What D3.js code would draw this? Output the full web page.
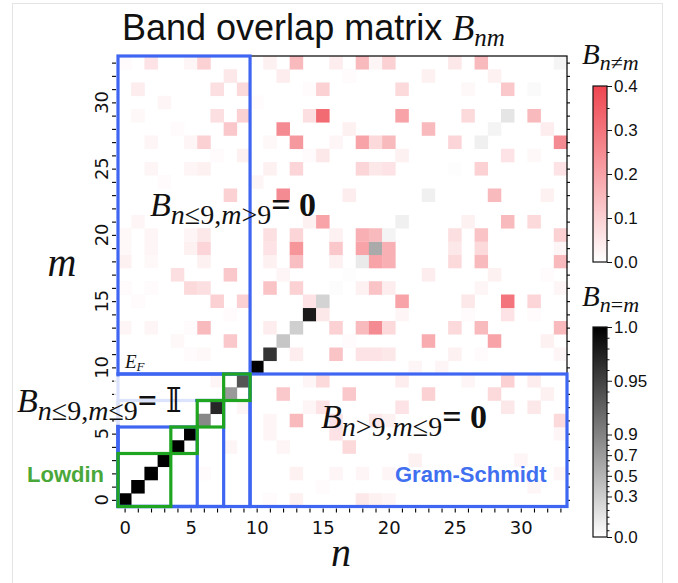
<!DOCTYPE html>
<html>
<head>
<meta charset="utf-8">
<script src="https://cdn.jsdelivr.net/npm/d3@7"></script>
<style>
  body { margin: 0; background: #ffffff; }
  svg { display: block; }
</style>
</head>
<body>
<svg id="chart" width="678" height="583"></svg>
<script>
// ---- data -------------------------------------------------------------
const bandIndex = d3.range(34);               // band indices n, m = 0..33
const axisTicks = [0, 5, 10, 15, 20, 25, 30];  // labelled ticks on both axes
const offTicks = [0.0, 0.1, 0.2, 0.3, 0.4];    // colour bar B_{n≠m}
const diagTicks = [0.0, 0.3, 0.5, 0.7, 0.9, 0.95, 1.0]; // colour bar B_{n=m}

// diagonal overlaps B_nn, n = 0..33
const diagonal = [
  1.00, 1.00, 1.00, 1.00, 1.00, 1.00, 0.86, 0.97, 0.72, 0.935,
  1.00, 0.96, 0.36, 0.29, 0.98, 0.27, 0.02, 0.01, 0.13, 0.585,
  0.07, 0.09, 0.00, 0.09, 0.00, 0.01, 0.00, 0.09, 0.07, 0.16,
  0.00, 0.03, 0.00, 0.06
];

// off-diagonal overlaps [n, m, B_nm]; absent pairs are zero
const offDiagonal = [
  // n <= 9, m > 9
  [0,33,.01],[2,33,.06],[5,33,.02],[6,33,.10],[8,32,.05],
  [1,31,.04],[7,31,.07],[9,31,.08],[3,30,.02],
  [1,29,.015],[7,29,.07],[9,29,.10],[4,28,.01],[8,28,.12],
  [2,27,.02],[5,27,.02],[6,27,.10],[7,26,.01],[9,26,.03],
  [2,25,.02],[5,25,.02],[6,25,.03],[3,24,.01],[8,23,.10],
  [1,21,.02],[0,20,.015],[2,20,.02],[5,20,.02],[6,20,.05],
  [0,19,.015],[2,19,.02],[5,19,.03],[6,19,.09],
  [0,18,.03],[2,18,.015],[6,18,.03],[4,17,.07],[8,17,.12],
  [0,16,.01],[2,16,.01],[5,16,.08],[6,16,.07],
  [1,15,.01],[7,15,.10],[9,15,.10],[8,14,.01],
  [0,13,.02],[2,13,.02],[5,13,.01],[6,13,.15],
  [4,12,.015],[8,12,.12],[5,11,.01],[6,11,.015],
  // n > 9, m > 9
  [11,33,.03],[13,33,.15],[16,33,.04],[18,33,.15],[19,33,.02],[20,33,.10],[25,33,.05],[27,33,.15],
  [12,32,.04],[17,32,.01],[23,32,.03],[28,32,.03],
  [14,31,.01],[15,31,.10],[21,31,.08],[26,31,.015],[29,31,.12],
  [10,30,.01],
  [14,29,.07],[15,29,.32],[21,29,.20],[26,29,.08],[31,29,.15],
  [12,28,.25],[17,28,.03],[23,28,.15],[32,28,.04],
  [11,27,.015],[13,27,.22],[16,27,.02],[18,27,.20],[19,27,.08],[20,27,.15],[25,27,.09],[33,27,.25],
  [14,26,.01],[15,26,.05],[21,26,.03],[29,26,.06],[31,26,.015],
  [11,25,.03],[13,25,.09],[18,25,.09],[19,25,.05],[20,25,.06],[27,25,.10],[33,25,.06],
  [10,24,.02],
  [12,23,.25],[17,23,.04],[28,23,.15],[32,23,.03],
  [14,21,.03],[15,21,.20],[26,21,.03],[29,21,.15],[31,21,.08],
  [11,20,.07],[13,20,.09],[16,20,.03],[18,20,.17],[19,20,.15],[25,20,.07],[27,20,.13],[33,20,.10],
  [11,19,.06],[13,19,.23],[16,19,.12],[18,19,.20],[20,19,.17],[25,19,.05],[27,19,.08],[33,19,.02],
  [11,18,.03],[13,18,.14],[16,18,.03],[19,18,.20],[20,18,.17],[25,18,.08],[27,18,.15],[33,18,.15],
  [12,17,.02],[23,17,.04],[28,17,.03],[32,17,.01],
  [11,16,.13],[13,16,.10],[18,16,.03],[19,16,.13],[20,16,.04],[27,16,.02],[33,16,.02],
  [14,15,.06],[21,15,.20],[26,15,.05],[29,15,.30],[31,15,.09],
  [15,14,.05],[21,14,.02],[26,14,.01],[29,14,.06],[31,14,.01],
  [11,13,.04],[16,13,.10],[18,13,.15],[19,13,.25],[20,13,.08],[25,13,.08],[27,13,.15],[33,13,.15],
  [17,12,.01],[23,12,.18],[28,12,.20],[32,12,.03],
  [13,11,.04],[16,11,.13],[18,11,.06],[19,11,.06],[20,11,.05],[25,11,.03],[27,11,.01],[33,11,.02],
  [22,10,.02],[24,10,.02],
  // n > 9, m <= 9
  [14,9,.02],[15,9,.08],[21,9,.04],[26,9,.02],[29,9,.10],[31,9,.04],
  [12,8,.12],[17,8,.12],[23,8,.10],[28,8,.08],[32,8,.03],
  [14,7,.02],[15,7,.06],[21,7,.06],[29,7,.05],[31,7,.05],
  [11,6,.02],[13,6,.15],[16,6,.06],[19,6,.05],[20,6,.03],[33,6,.08],
  [11,5,.02],[16,5,.06],[33,5,.02],
  [12,4,.02],[17,4,.08],
  [22,3,.03],[30,3,.02],
  [13,2,.03],[16,2,.02],[18,2,.02],[20,2,.02],[33,2,.02],
  [15,1,.01],[31,1,.02],
  [11,0,.01],[13,0,.03],[18,0,.05],[19,0,.03],[20,0,.02],
  // n <= 9, m <= 9
  [7,9,.02],[9,7,.02],[8,4,.02],[6,2,.01]
];

// ---- layout -------------------------------------------------------------
const plot = { left: 118, right: 567, top: 56, bottom: 506.5 };
const BLUE = "#3f66f2", GREEN = "#1fa51f";
const SERIF = "'Liberation Serif', 'DejaVu Serif', serif";
const SANS = "'Liberation Sans', Arial, sans-serif";
const DEJAVU = "'DejaVu Sans', sans-serif";

const svg = d3.select("#chart");

// page frame
svg.append("rect").attr("x", 12.5).attr("y", 3.5).attr("width", 650).attr("height", 600)
  .attr("fill", "#fff").attr("stroke", "#e4e4e4").attr("stroke-width", 1);

const x = d3.scaleBand().domain(bandIndex).range([plot.left, plot.right]);
const y = d3.scaleBand().domain(bandIndex).range([plot.bottom, plot.top]);
const xe = d3.scaleLinear().domain([-0.5, 33.5]).range([plot.left, plot.right]);
const ye = d3.scaleLinear().domain([-0.5, 33.5]).range([plot.bottom, plot.top]);

// off-diagonal: white -> red; diagonal: white -> black on a stretched, piecewise norm
const offColor = d3.scaleLinear().domain([0, 0.4]).range(["#ffffff", "#ef4650"]).clamp(true);
const diagNorm = d3.scaleLinear().domain([0, 0.3, 0.9, 1.0]).range([0, 0.193, 0.488, 1]).clamp(true);
const diagColor = v => d3.interpolateRgb("#ffffff", "#000000")(diagNorm(v));

// ---- heat map ---------------------------------------------------------
const offMap = new Map(offDiagonal.map(([n, m, v]) => [n + "," + m, v]));
const cells = [];
bandIndex.forEach(m => bandIndex.forEach(n => {
  const v = n === m ? diagonal[n] : (offMap.get(n + "," + m) || 0);
  if (v > 0) cells.push({ n, m, v });
}));

svg.append("g").selectAll("rect").data(cells).join("rect")
  .attr("x", d => x(d.n)).attr("y", d => y(d.m))
  .attr("width", x.bandwidth() + 0.3).attr("height", y.bandwidth() + 0.3)
  .attr("fill", d => d.n === d.m ? diagColor(d.v) : offColor(d.v));

// ---- axes -------------------------------------------------------------
svg.append("rect").attr("x", plot.left).attr("y", plot.top)
  .attr("width", plot.right - plot.left).attr("height", plot.bottom - plot.top)
  .attr("fill", "none").attr("stroke", "#000").attr("stroke-width", 1.2);

const xAxis = svg.append("g").attr("transform", `translate(0,${plot.bottom + 2})`)
  .call(d3.axisBottom(xe).tickValues(bandIndex).tickSize(4).tickPadding(9)
    .tickFormat(d => axisTicks.includes(d) ? d : ""));
const yAxis = svg.append("g").attr("transform", `translate(${plot.left - 2},0)`)
  .call(d3.axisLeft(ye).tickValues(bandIndex).tickSize(4).tickFormat(""));
const rAxis = svg.append("g").attr("transform", `translate(${plot.right},0)`)
  .call(d3.axisRight(ye).tickValues(bandIndex).tickSize(3).tickFormat(""));
[xAxis, yAxis, rAxis].forEach(g => {
  g.select(".domain").remove();
  g.selectAll(".tick line").attr("stroke", "#000").attr("stroke-width", 1.1);
});
xAxis.selectAll(".tick text").attr("font-family", DEJAVU).attr("font-size", 18).attr("fill", "#111");

svg.append("g").selectAll("text").data(axisTicks).join("text")
  .attr("transform", d => `translate(${plot.left - 10},${ye(d)}) rotate(-90)`)
  .attr("text-anchor", "middle")
  .attr("font-family", DEJAVU).attr("font-size", 18).attr("fill", "#111")
  .text(d => d);

// ---- region boxes -----------------------------------------------------
function box(g, n0, n1, m0, m1, color, width) {
  g.append("rect")
    .attr("x", xe(n0)).attr("y", ye(m1))
    .attr("width", xe(n1) - xe(n0)).attr("height", ye(m0) - ye(m1))
    .attr("fill", "none").attr("stroke", color).attr("stroke-width", width);
}
// Gram-Schmidt blocks
const gsBoxes = svg.append("g");
box(gsBoxes, -0.5, 9.5, 9.5, 33.5, BLUE, 3.2);
box(gsBoxes, 9.5, 33.5, -0.5, 9.5, BLUE, 3.2);
box(gsBoxes, -0.5, 9.5, -0.5, 9.5, BLUE, 3.2);
box(gsBoxes, -0.5, 7.5, -0.5, 7.5, BLUE, 3.2);
box(gsBoxes, -0.5, 5.5, -0.5, 5.5, BLUE, 3.2);
// veil behind the identity label
svg.append("rect").attr("x", xe(-0.5) - 4).attr("y", ye(9.5) + 2.4)
  .attr("width", xe(5.5) - xe(-0.5) + 2).attr("height", ye(5.5) - ye(9.5) - 4.6)
  .attr("fill", "#fff").attr("opacity", 0.82);
// Lowdin blocks
const lwBoxes = svg.append("g");
box(lwBoxes, -0.5, 3.5, -0.5, 3.5, GREEN, 3.2);
box(lwBoxes, 3.5, 5.5, 3.5, 5.5, GREEN, 3.2);
box(lwBoxes, 5.5, 7.5, 5.5, 7.5, GREEN, 3.2);
box(lwBoxes, 7.5, 9.5, 7.5, 9.5, GREEN, 3.2);

// ---- math labels --------------------------------------------------------
// base letter in italic, subscript with italic letters and upright symbols,
// then an optional tail of [text, bold] pieces back on the baseline
function mathText(g, o) {
  const t = g.append("text").attr("x", o.x).attr("y", o.y)
    .attr("font-family", SERIF).attr("font-size", o.size).attr("fill", o.fill || "#111");
  if (o.pre) t.append("tspan").attr("font-family", SANS).attr("font-size", o.preSize || o.size).text(o.pre);
  t.append("tspan").attr("font-style", "italic").text(o.base);
  const shift = o.shift || o.size * 0.26;
  (o.sub.match(/[A-Za-z]+|[^A-Za-z]+/g) || []).forEach((tok, i) => {
    const s = t.append("tspan").attr("font-size", o.subSize)
      .attr("font-style", /[A-Za-z]/.test(tok) ? "italic" : "normal").text(tok);
    if (i === 0) s.attr("dy", shift);
  });
  (o.tail || []).forEach(([txt, bold], i) => {
    const s = t.append("tspan").attr("font-weight", bold ? "bold" : "normal").text(txt);
    if (i === 0) s.attr("dy", -shift);
  });
  return t;
}

const labels = svg.append("g");
mathText(labels, { x: 122, y: 40, size: 36, preSize: 36, subSize: 25, pre: "Band overlap matrix ", base: "B", sub: "nm", shift: 6 });
mathText(labels, { x: 150, y: 216, size: 34, subSize: 28, base: "B", sub: "n≤9,m>9", tail: [["= 0", true]], shift: 8 });
mathText(labels, { x: 321, y: 428, size: 34, subSize: 28, base: "B", sub: "n>9,m≤9", tail: [["= 0", true]], shift: 8 });
mathText(labels, { x: 17, y: 412, size: 34, subSize: 28, base: "B", sub: "n≤9,m≤9", tail: [["= ", true], ["𝕀", false]], shift: 8 });
mathText(labels, { x: 125, y: 368, size: 19, subSize: 13, base: "E", sub: "F", shift: 3 });
mathText(labels, { x: 582, y: 64, size: 29, subSize: 22, base: "B", sub: "n≠m", shift: 6 });
mathText(labels, { x: 582, y: 306, size: 29, subSize: 22, base: "B", sub: "n=m", shift: 6 });

labels.append("text").attr("x", 341).attr("y", 566).attr("text-anchor", "middle")
  .attr("font-family", SERIF).attr("font-style", "italic").attr("font-size", 40).attr("fill", "#111").text("n");
labels.append("text").attr("x", 62).attr("y", 276).attr("text-anchor", "middle")
  .attr("font-family", SERIF).attr("font-style", "italic").attr("font-size", 40).attr("fill", "#111").text("m");

labels.append("text").attr("x", 27).attr("y", 482).attr("font-family", SANS).attr("font-weight", "bold")
  .attr("font-size", 22).attr("fill", "#4aa83a").text("Lowdin");
labels.append("text").attr("x", 395).attr("y", 482).attr("font-family", SANS).attr("font-weight", "bold")
  .attr("font-size", 22).attr("fill", "#4070f0").text("Gram-Schmidt");

// ---- colour bars ------------------------------------------------------
const defs = svg.append("defs");
function gradient(id, c0, c1) {
  const g = defs.append("linearGradient").attr("id", id)
    .attr("x1", 0).attr("y1", 1).attr("x2", 0).attr("y2", 0);
  g.append("stop").attr("offset", 0).attr("stop-color", c0);
  g.append("stop").attr("offset", 1).attr("stop-color", c1);
}
gradient("offGrad", offColor(0), offColor(0.4));
gradient("diagGrad", diagColor(0), diagColor(1));

function colorBar(scale, grad, majors, minors, fmt) {
  const r = scale.range();
  const y0 = r[0], y1 = r[r.length - 1];
  const bx = 593, bw = 14;
  svg.append("rect").attr("x", bx).attr("y", y1).attr("width", bw).attr("height", y0 - y1)
    .attr("fill", `url(#${grad})`).attr("stroke", "#111").attr("stroke-width", 1.2);
  const maj = svg.append("g").attr("transform", `translate(${bx + bw},0)`)
    .call(d3.axisRight(scale).tickValues(majors).tickSize(5).tickPadding(2).tickFormat(fmt));
  const min = svg.append("g").attr("transform", `translate(${bx + bw},0)`)
    .call(d3.axisRight(scale).tickValues(minors).tickSize(2.5).tickFormat(""));
  [maj, min].forEach(g => {
    g.select(".domain").remove();
    g.selectAll(".tick line").attr("stroke", "#111").attr("stroke-width", 1);
  });
  maj.selectAll(".tick text").attr("font-family", SANS).attr("font-size", 17).attr("fill", "#111");
}
const offScale = d3.scaleLinear().domain([0, 0.4]).range([262, 86]);
colorBar(offScale, "offGrad", offTicks, [0.05, 0.15, 0.25, 0.35], d3.format(".1f"));

// bar position follows the same piecewise norm as the diagonal colours
const diagScale = d3.scaleLinear().domain(diagNorm.domain()).range(diagNorm.range().map(t => 537 - t * 210));
const diagMinor = d3.range(1, 18).map(i => i * 0.05).concat(d3.range(1, 10).map(i => 0.9 + i * 0.01))
  .filter(v => !diagTicks.some(t => Math.abs(t - v) < 1e-6));
colorBar(diagScale, "diagGrad", diagTicks, diagMinor, d => d === 0.95 ? "0.95" : d3.format(".1f")(d));
</script>
</body>
</html>
